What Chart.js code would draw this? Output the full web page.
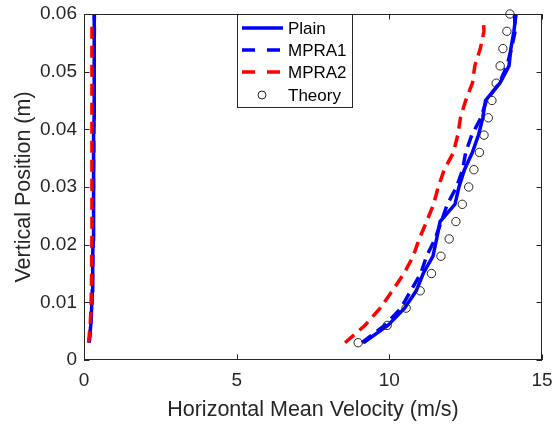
<!DOCTYPE html>
<html>
<head>
<meta charset="utf-8">
<script src="https://cdn.jsdelivr.net/npm/chart.js@4.4.1/dist/chart.umd.min.js"></script>
<style>
  html, body { margin: 0; padding: 0; background: #fff; }
</style>
</head>
<body>
<canvas id="velChart" width="554" height="427"></canvas>
<script>
// vertical positions (m) of the profile samples
const yPos = [0.003, 0.006, 0.009, 0.012, 0.015, 0.018, 0.021, 0.024, 0.027, 0.030,
              0.033, 0.036, 0.039, 0.042, 0.045, 0.048, 0.051, 0.054, 0.057, 0.060];

// horizontal mean velocity (m/s), branch near zero and main profile
const plainLeft  = [0.17, 0.22, 0.25, 0.27, 0.28, 0.29, 0.30, 0.30, 0.31, 0.31,
                    0.32, 0.32, 0.32, 0.33, 0.33, 0.33, 0.33, 0.34, 0.34, 0.34];
const plainRight = [9.15, 9.95, 10.50, 10.88, 11.11, 11.43, 11.55, 11.66, 12.15, 12.28,
                    12.46, 12.72, 12.92, 13.06, 13.15, 13.62, 13.92, 13.98, 14.08, 14.15];

const mpra1Left  = [0.17, 0.22, 0.25, 0.27, 0.28, 0.29, 0.30, 0.30, 0.30, 0.31,
                    0.31, 0.32, 0.32, 0.32, 0.33, 0.33, 0.33, 0.33, 0.34, 0.34];
const mpra1Right = [9.10, 9.85, 10.38, 10.70, 11.03, 11.22, 11.50, 11.70, 11.90, 12.20,
                    12.40, 12.50, 12.70, 13.00, 13.18, 13.60, 13.85, 14.00, 14.12, 14.10];

const mpra2Y     = [0.003, 0.006, 0.009, 0.012, 0.015, 0.018, 0.021, 0.024, 0.027, 0.030,
                    0.033, 0.036, 0.039, 0.042, 0.045, 0.048, 0.051, 0.054, 0.057, 0.059];
const mpra2Left  = [0.15, 0.20, 0.23, 0.24, 0.25, 0.25, 0.26, 0.26, 0.26, 0.26,
                    0.26, 0.26, 0.26, 0.26, 0.26, 0.26, 0.26, 0.26, 0.26, 0.26];
const mpra2Right = [8.55, 9.20, 9.70, 10.10, 10.48, 10.78, 10.98, 11.22, 11.45, 11.60,
                    11.80, 12.10, 12.24, 12.33, 12.50, 12.72, 12.80, 12.98, 13.10, 13.08];

const theory     = [8.98, 9.93, 10.55, 11.01, 11.38, 11.69, 11.96, 12.18, 12.39, 12.60,
                    12.77, 12.95, 13.10, 13.24, 13.36, 13.50, 13.63, 13.72, 13.85, 13.95];

const xTicks = [0, 5, 10, 15];
const yTicks = [0, 0.01, 0.02, 0.03, 0.04, 0.05, 0.06];
const yTickLabels = ["0", "0.01", "0.02", "0.03", "0.04", "0.05", "0.06"];

const FONT = "'Liberation Sans', Arial, Helvetica, sans-serif";
const INK = "#262626";
const BLUE = "#0000ff";
const RED = "#ff0000";
const DASH = [12, 7];

function pts(xs, ys) {
  return xs.map((x, i) => ({ x: x, y: ys[i] }));
}

function lineSet(label, xs, ys, color, dash, order, inLegend) {
  return {
    label: label,
    data: pts(xs, ys),
    showLine: true,
    borderColor: color,
    backgroundColor: color,
    borderWidth: 3.5,
    borderDash: dash,
    pointRadius: 0,
    pointHoverRadius: 0,
    order: order,
    inLegend: inLegend
  };
}

// frame, inward ticks and the boxed legend like the matlab figure
const matlabFrame = {
  id: "matlabFrame",
  afterDraw(chart) {
    const ctx = chart.ctx;
    const a = chart.chartArea;
    const sx = chart.scales.x, sy = chart.scales.y;
    const tl = 5.5;
    ctx.save();
    ctx.strokeStyle = INK;
    ctx.lineWidth = 1;
    ctx.setLineDash([]);
    ctx.strokeRect(a.left + 0.5, a.top + 0.5, a.right - a.left - 1, a.bottom - a.top - 1);
    ctx.beginPath();
    xTicks.forEach(v => {
      const p = Math.round(sx.getPixelForValue(v)) + 0.5;
      ctx.moveTo(p, a.bottom); ctx.lineTo(p, a.bottom - tl);
      ctx.moveTo(p, a.top); ctx.lineTo(p, a.top + tl);
    });
    yTicks.forEach(v => {
      const p = Math.round(sy.getPixelForValue(v)) + 0.5;
      ctx.moveTo(a.left, p); ctx.lineTo(a.left + tl, p);
      ctx.moveTo(a.right, p); ctx.lineTo(a.right - tl, p);
    });
    ctx.stroke();

    // legend box
    const items = chart.data.datasets.filter(d => d.inLegend);
    const bx = 237.5, by = a.top + 0.5, bw = 115, bh = 93;
    ctx.fillStyle = "#fff";
    ctx.fillRect(bx, by, bw, bh);
    ctx.strokeRect(bx, by, bw, bh);
    const rowY = [28, 50, 72, 95];
    ctx.font = "17px " + FONT;
    ctx.textBaseline = "middle";
    ctx.textAlign = "left";
    items.forEach((d, i) => {
      const y = rowY[i];
      if (d.showLine) {
        ctx.strokeStyle = d.borderColor;
        ctx.lineWidth = 3.5;
        ctx.setLineDash(d.borderDash && d.borderDash.length ? [13, 12] : []);
        ctx.beginPath();
        ctx.moveTo(242, y); ctx.lineTo(283, y);
        ctx.stroke();
      } else {
        ctx.setLineDash([]);
        ctx.strokeStyle = d.borderColor;
        ctx.lineWidth = 1;
        ctx.beginPath();
        ctx.arc(262, y, 4, 0, Math.PI * 2);
        ctx.stroke();
      }
      ctx.fillStyle = "#000";
      ctx.fillText(d.label, 288, y + 1);
    });
    ctx.restore();
  }
};

const datasets = [
  lineSet("Plain", plainRight, yPos, BLUE, [], 4, true),
  lineSet("Plain", plainLeft, yPos, BLUE, [], 4, false),
  lineSet("MPRA1", mpra1Right, yPos, BLUE, DASH, 3, true),
  lineSet("MPRA1", mpra1Left, yPos, BLUE, DASH, 3, false),
  lineSet("MPRA2", mpra2Right, mpra2Y, RED, DASH, 2, true),
  lineSet("MPRA2", mpra2Left, mpra2Y, RED, DASH, 2, false),
  {
    label: "Theory",
    data: pts(theory, yPos),
    showLine: false,
    borderColor: INK,
    backgroundColor: "rgba(0,0,0,0)",
    borderWidth: 1,
    pointStyle: "circle",
    pointRadius: 4.2,
    pointHoverRadius: 4.2,
    clip: false,
    order: 1,
    inLegend: true
  }
];

new Chart(document.getElementById("velChart").getContext("2d"), {
  type: "scatter",
  data: { datasets: datasets },
  plugins: [matlabFrame],
  options: {
    responsive: false,
    animation: false,
    devicePixelRatio: 1,
    layout: { padding: { top: 14, right: 12, left: 0, bottom: 0 } },
    plugins: {
      legend: { display: false },
      tooltip: { enabled: false }
    },
    scales: {
      x: {
        type: "linear",
        min: 0,
        max: 15,
        afterBuildTicks: s => { s.ticks = xTicks.map(v => ({ value: v })); },
        afterFit: s => { s.height = 67; s.paddingLeft = 0; s.paddingRight = 0; },
        grid: { display: false, drawTicks: false },
        border: { display: false },
        ticks: { color: INK, font: { family: FONT, size: 19 }, padding: 9, maxRotation: 0 },
        title: {
          display: true,
          text: "Horizontal Mean Velocity (m/s)",
          color: INK,
          font: { family: FONT, size: 21.5 },
          padding: { top: 0, bottom: 4 }
        }
      },
      y: {
        type: "linear",
        min: 0,
        max: 0.06,
        afterBuildTicks: s => { s.ticks = yTicks.map(v => ({ value: v })); },
        afterFit: s => { s.width = 84; s.paddingTop = 0; s.paddingBottom = 0; },
        grid: { display: false, drawTicks: false },
        border: { display: false },
        ticks: {
          color: INK,
          font: { family: FONT, size: 19 },
          padding: 7,
          callback: (v, i) => yTickLabels[i]
        },
        title: {
          display: true,
          text: "Vertical Position (m)",
          color: INK,
          font: { family: FONT, size: 21.5 },
          padding: { top: 11, bottom: 0 }
        }
      }
    }
  }
});
</script>
</body>
</html>
